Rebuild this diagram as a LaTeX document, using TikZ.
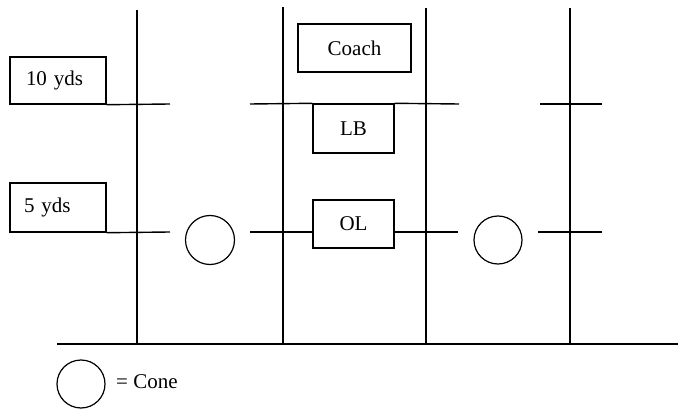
\documentclass[tikz,border=0pt]{standalone}
\usepackage{fontspec}
\setmainfont{Liberation Serif}
\begin{document}
\begin{tikzpicture}[x=1pt,y=-1pt,
  line/.style={line width=1.4pt},
  box/.style={draw,line width=1.4pt,inner sep=0pt,font=\fontsize{21}{23}\selectfont},
  cone/.style={draw,circle,line width=1.2pt,inner sep=0pt},
  lbl/.style={inner sep=0pt,font=\fontsize{21}{23}\selectfont}]
\useasboundingbox (0,0) rectangle (678,409);
% vertical field lines
\coordinate (v1t) at (137,10); \coordinate (v1b) at (137,344);
\coordinate (v2t) at (283,7);  \coordinate (v2b) at (283,344);
\coordinate (v3t) at (426,8);  \coordinate (v3b) at (426,344);
\coordinate (v4t) at (570,8);  \coordinate (v4b) at (570,344);
\coordinate (gl) at (57,344);  \coordinate (gr) at (678,344);
\draw[line] (v1t) -- (v1b);
\draw[line] (v2t) -- (v2b);
\draw[line] (v3t) -- (v3b);
\draw[line] (v4t) -- (v4b);
\draw[line] (gl) -- (gr);
% boxes
\node[box,minimum width=96pt,minimum height=47pt,text width=64pt,align=left] (ten) at (58,80.5) {10 yds};
\node[box,minimum width=96pt,minimum height=49pt,text width=68pt,align=left] (five) at (58,207.5) {5 yds};
\node[box,minimum width=113pt,minimum height=48pt] (coach) at (354.5,48) {Coach};
\node[box,minimum width=81pt,minimum height=49pt] (lb) at (353.5,128.5) {LB};
\node[box,minimum width=81pt,minimum height=48pt] (ol) at (353.5,224) {OL};
% cones
\node[cone,minimum size=49pt] (c1) at (210,240) {};
\node[cone,minimum size=48pt] (c2) at (498,240) {};
\node[cone,minimum size=48pt] (cl) at (81,384) {};
\node[lbl,anchor=west] (conetxt) at (116,382) {= Cone};
% 10 yd markers
\coordinate (t1e) at (170,104);
\coordinate (t2s) at (250,104); \coordinate (t2e) at (459,104);
\coordinate (t3s) at (540,104); \coordinate (t3e) at (602,104);
\draw[line] (ten.south east) -- (t1e);
\draw[line] (t2s) -- (lb.north west);
\draw[line] (lb.north east) -- (t2e);
\draw[line] (t3s) -- (t3e);
% 5 yd markers
\coordinate (f1e) at (170,232);
\coordinate (f2s) at (250,232); \coordinate (olw) at (313,232);
\coordinate (ole) at (394,232); \coordinate (f2e) at (458,232);
\coordinate (f3s) at (538,232); \coordinate (f3e) at (602,232);
\draw[line] (five.south east) -- (f1e);
\draw[line] (f2s) -- (olw);
\draw[line] (ole) -- (f2e);
\draw[line] (f3s) -- (f3e);
\end{tikzpicture}
\end{document}
